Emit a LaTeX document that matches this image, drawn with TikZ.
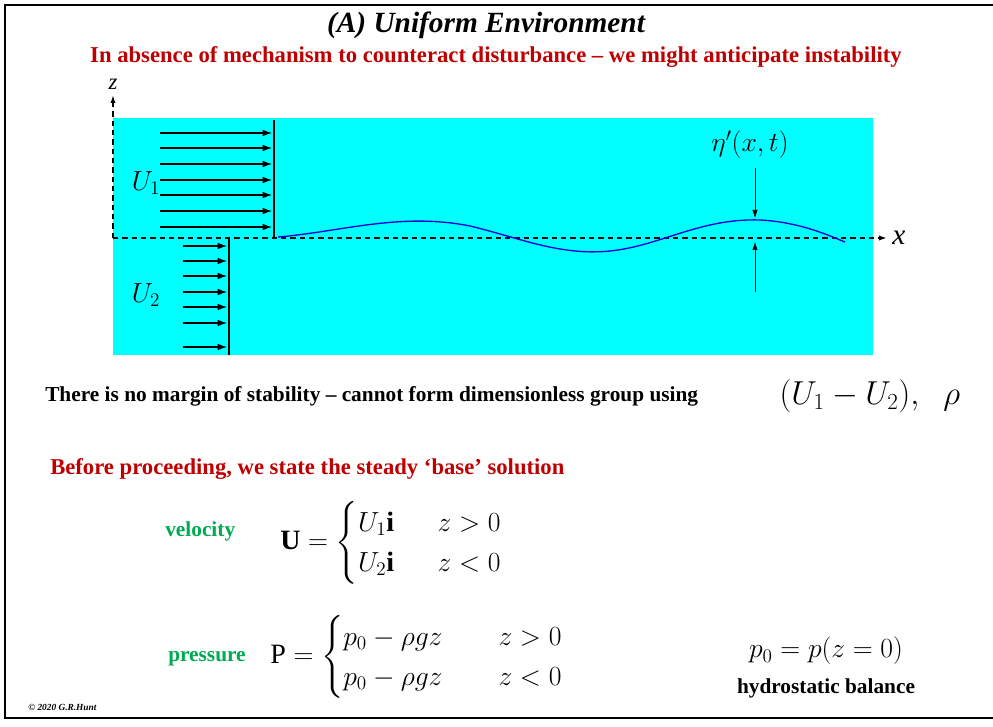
\documentclass[tikz,border=0pt]{standalone}
\usepackage{amsmath}
\usepackage{fontspec}
\setmainfont{Liberation Serif}
\usetikzlibrary{arrows.meta}
\definecolor{dred}{RGB}{192,0,0}
\definecolor{dgreen}{RGB}{0,170,80}
\definecolor{cyanbg}{RGB}{0,255,255}
\begin{document}
\begin{tikzpicture}[x=0.75pt,y=-0.75pt,
  flow/.style={-{Latex[length=7pt,width=5pt]},line width=0.8pt},
  ax/.style={dash pattern=on 4pt off 3pt,line width=1.4pt,-{Latex[length=6pt,width=4pt]}},
  lbl/.style={font=\bfseries\fontsize{16}{19}\selectfont,anchor=west,inner sep=0}]
\useasboundingbox (0,0) rectangle (993,727);
\draw[line width=1.5pt] (5,5) rectangle (1000,718);
\node[font=\bfseries\itshape\fontsize{22}{26}\selectfont] (title) at (486,25) {(A) Uniform Environment};
\node[font=\bfseries\fontsize{17}{20}\selectfont,text=dred] (sub) at (496,57) {In absence of mechanism to counteract disturbance -- we might anticipate instability};
\fill[cyanbg] (113,118) rectangle (873,355);
\coordinate (o) at (113,238);
\coordinate (zt) at (113,95);
\coordinate (xt) at (887,238);
\draw[ax] (o) -- (zt);
\draw[ax] (o) -- (xt);
\node[font=\itshape\fontsize{17}{20}\selectfont] (zl) at (113,84) {z};
\node[font=\itshape\fontsize{22}{24}\selectfont] (xl) at (899,238) {x};
\foreach \y in {133,148,164,180,195,211,227} \draw[flow] (160,\y) -- (272,\y);
\draw[line width=1.5pt] (274,120) -- (274,238);
\foreach \y in {246,261,276,292,307,323,347} \draw[flow] (183,\y) -- (227,\y);
\draw[line width=1.5pt] (229,238) -- (229,355);
\node[font=\fontsize{21}{24}\selectfont] (u1) at (146,183) {$U_1$};
\node[font=\fontsize{21}{24}\selectfont] (u2) at (146,295) {$U_2$};
\draw[blue!85!black,line width=1pt] (278,237) .. controls (340,232) and (400,212) .. (470,226)
  .. controls (520,238) and (560,256) .. (610,251) .. controls (660,246) and (700,218) .. (760,220)
  .. controls (800,222) and (830,236) .. (845,242);
\node[font=\fontsize{21}{24}\selectfont] (eta) at (750,145) {$\eta'(x,t)$};
\coordinate (a1) at (755,168); \coordinate (a1e) at (755,218);
\coordinate (a2) at (755,292); \coordinate (a2e) at (755,242);
\draw[-{Latex[length=6pt,width=4pt]}] (a1) -- (a1e);
\draw[-{Latex[length=6pt,width=4pt]}] (a2) -- (a2e);
\node[lbl] (nomargin) at (45,396) {There is no margin of stability -- cannot form dimensionless group using};
\node[font=\fontsize{23}{27}\selectfont,anchor=west] (grp) at (775,396) {$(U_1-U_2),\;\; \rho$};
\node[lbl,text=dred,font=\bfseries\fontsize{17}{20}\selectfont] (before) at (50,469) {Before proceeding, we state the steady ‘base’ solution};
\node[lbl,text=dgreen] (vel) at (165,531) {velocity};
\node[font=\fontsize{21}{25}\selectfont,anchor=west,inner sep=0] (veq) at (280,543) {$\mathbf{U}=\begin{cases}U_1\mathbf{i} & \;\; z>0\\ U_2\mathbf{i} & \;\; z<0\end{cases}$};
\node[lbl,text=dgreen] (pre) at (168,659) {pressure};
\node[font=\fontsize{21}{25}\selectfont,anchor=west,inner sep=0] (peq) at (270,657) {$\mathrm{P}=\begin{cases}p_0-\rho g z & \quad z>0\\ p_0-\rho g z & \quad z<0\end{cases}$};
\node[font=\fontsize{21}{25}\selectfont] (p0) at (826,651) {$p_0=p(z=0)$};
\node[font=\bfseries\fontsize{16}{19}\selectfont] (hyd) at (826,688) {hydrostatic balance};
\node[font=\bfseries\itshape\fontsize{7}{8}\selectfont,anchor=west,inner sep=0] (copy) at (28,707) {© 2020 G.R.Hunt};
\end{tikzpicture}
\end{document}
